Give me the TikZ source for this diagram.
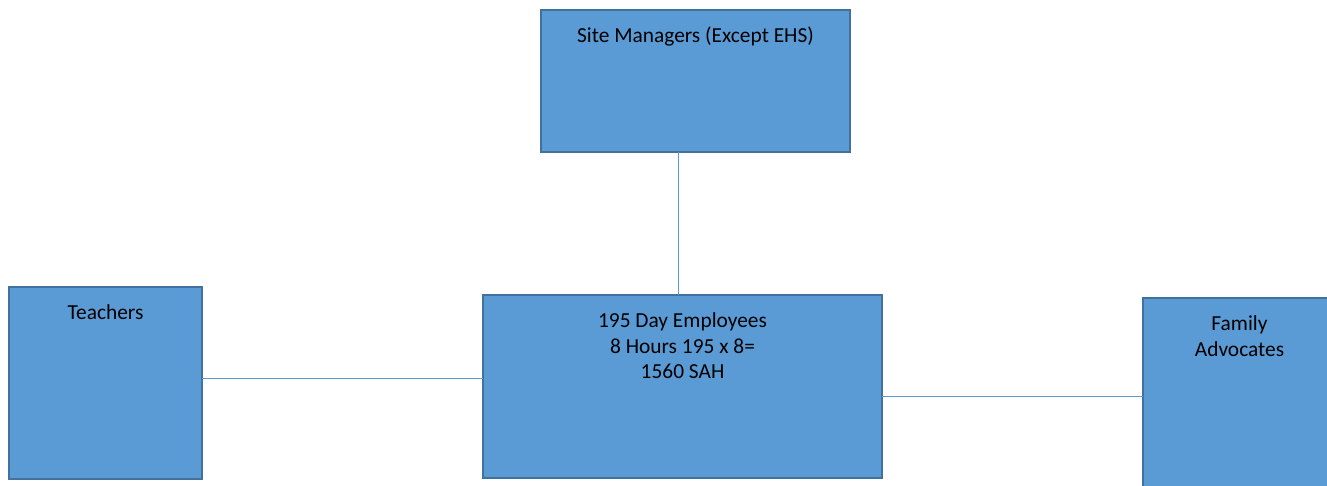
\documentclass[tikz,border=0pt]{standalone}
\usepackage{fontspec}
\setmainfont{Carlito}
\definecolor{boxfill}{HTML}{5B9BD5}
\definecolor{boxline}{HTML}{41719C}
\definecolor{linkline}{HTML}{5B9BD5}
\tikzset{
  orgbox/.style={draw=boxline, fill=boxfill, line width=2.5pt, rectangle,
    inner sep=0pt, outer sep=0pt},
  boxtext/.style={anchor=base, align=center, inner sep=0pt, text=black,
    font=\fontsize{21.4}{25.5}\selectfont},
  link/.style={draw=linkline, line width=1pt}
}
\begin{document}
\begin{tikzpicture}[x=1pt, y=-1pt]
  \useasboundingbox (0,0) rectangle (1327,485);
  \clip (0,0) rectangle (1327,485);

  % boxes
  \node[orgbox, minimum width=309pt, minimum height=142pt] (site) at (695.5,81) {};
  \node[orgbox, minimum width=193pt, minimum height=192pt] (teach) at (105.5,383) {};
  \node[orgbox, minimum width=399pt, minimum height=183pt] (emp) at (682.5,386.5) {};
  \node[orgbox, minimum width=193pt, minimum height=192pt] (fam) at (1239.5,394) {};

  % labels; the base anchor sits on the last line, 25.5pt per extra line
  \node[boxtext] (sitetxt) at ([yshift=-32.5pt]site.north) {Site Managers (Except EHS)};
  \node[boxtext] (teachtxt) at ([yshift=-32.5pt]teach.north) {Teachers};
  \node[boxtext] (emptxt) at ([yshift=-83.5pt]emp.north) {195 Day Employees\\8 Hours 195 x 8=\\1560 SAH};
  \node[boxtext] (famtxt) at ([yshift=-58pt]fam.north) {Family\\Advocates};

  % connector heights
  \coordinate (vx) at (678,0);
  \coordinate (yl) at (0,378);
  \coordinate (yr) at (0,396);

  \draw[link] (site.south -| vx) -- (emp.north -| vx);
  \draw[link] (teach.east |- yl) -- (emp.west |- yl);
  \draw[link] (emp.east |- yr) -- (fam.west |- yr);
\end{tikzpicture}
\end{document}
